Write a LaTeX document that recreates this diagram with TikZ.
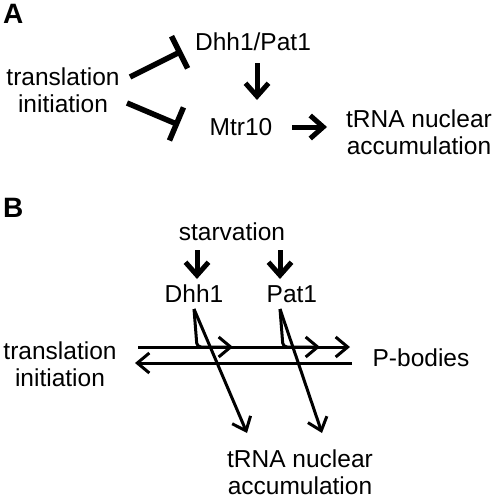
\documentclass[tikz,border=0pt]{standalone}
\usepackage{fontspec}
\setmainfont{Liberation Sans}
\usepackage{tikz}
\usetikzlibrary{positioning, arrows.meta}

\begin{document}
\begin{tikzpicture}[x=1pt, y=-1pt, >={Straight Barb[length=13pt, width=23pt]},
    lbl/.style={font=\fontsize{24.5}{27}\selectfont, inner sep=0pt, align=center},
    panel/.style={font=\fontsize{28}{30}\selectfont\bfseries, inner sep=0pt, anchor=north west},
    act/.style={->, line width=5pt},
    flow/.style={line width=3pt, -{Straight Barb[length=12pt, width=20pt]}},
    inhib/.style={line width=5.5pt, -{Bar[width=36pt]}}]

    \useasboundingbox (0,0) rectangle (498,498);

    % 1. Define Nodes (panel A)
    \node[panel] (labA) at (3,4) {A};
    \node[lbl] (transA) at (63,90.5) {translation\\initiation};
    \node[lbl] (dhpA) at (253,42) {Dhh1/Pat1};
    \node[lbl] (mtrA) at (241,127) {Mtr10};
    \node[lbl] (trnaA) at (419,132.5) {tRNA nuclear\\accumulation};

    % helper coordinates for the free ends
    \coordinate (inA1s) at (130,77);  \coordinate (inA1e) at (182,51);
    \coordinate (inA2s) at (127,103); \coordinate (inA2e) at (179,125);
    \coordinate (dpA) at (257,63);    \coordinate (mtA) at (257,100);
    \coordinate (mrA) at (292,127);   \coordinate (trA) at (327,127);

    % 2. Draw Arrows (panel A)
    % translation initiation -| Dhh1/Pat1 and Mtr10
    \draw[inhib] (inA1s) -- (inA1e);
    \draw[inhib] (inA2s) -- (inA2e);
    % Dhh1/Pat1 -> Mtr10
    \draw[act] (dpA) -- (mtA);
    % Mtr10 -> tRNA nuclear accumulation
    \draw[act] (mrA) -- (trA);

    % 1. Define Nodes (panel B)
    \node[panel] (labB) at (3,198) {B};
    \node[lbl] (starv) at (232,231.5) {starvation};
    \node[lbl] (dhh) at (194,294) {Dhh1};
    \node[lbl] (pat) [right=43pt of dhh] {Pat1};
    \node[lbl] (transB) at (60,364.5) {translation\\initiation};
    \node[lbl] (pbod) at (421,357.5) {P-bodies};
    \node[lbl] (trnaB) at (300,472) {tRNA nuclear\\accumulation};

    % helper coordinates for the free ends
    \coordinate (sdS) at (197,250); \coordinate (sdE) at (197,279);
    \coordinate (spS) at (280,250); \coordinate (spE) at (280,279);
    \coordinate (upL) at (138,347); \coordinate (upR) at (350,347);
    \coordinate (loR) at (352,363); \coordinate (loL) at (135,363);
    \coordinate (dhhS) at (194,309); \coordinate (dhhK) at (197,347);
    \coordinate (dhhM) at (233,347); \coordinate (dhhT) at (247,433);
    \coordinate (patS) at (280,309); \coordinate (patK) at (283,347);
    \coordinate (patM) at (320,347); \coordinate (patT) at (322,433);

    % 2. Draw Arrows (panel B)
    % starvation -> Dhh1, Pat1
    \draw[act] (sdS) -- (sdE);
    \draw[act] (spS) -- (spE);
    % translation initiation <-> P-bodies
    \draw[flow] (upL) -- (upR);
    \draw[flow] (loR) -- (loL);
    % Dhh1 and Pat1 join the P-body arrow
    \draw[flow, rounded corners=4pt] (dhhS) -- (dhhK) -- (dhhM);
    \draw[flow, rounded corners=4pt] (patS) -- (patK) -- (patM);
    % Dhh1 and Pat1 -> tRNA nuclear accumulation
    \draw[flow] (dhhS) -- (dhhT);
    \draw[flow] (patS) -- (patT);

\end{tikzpicture}
\end{document}
